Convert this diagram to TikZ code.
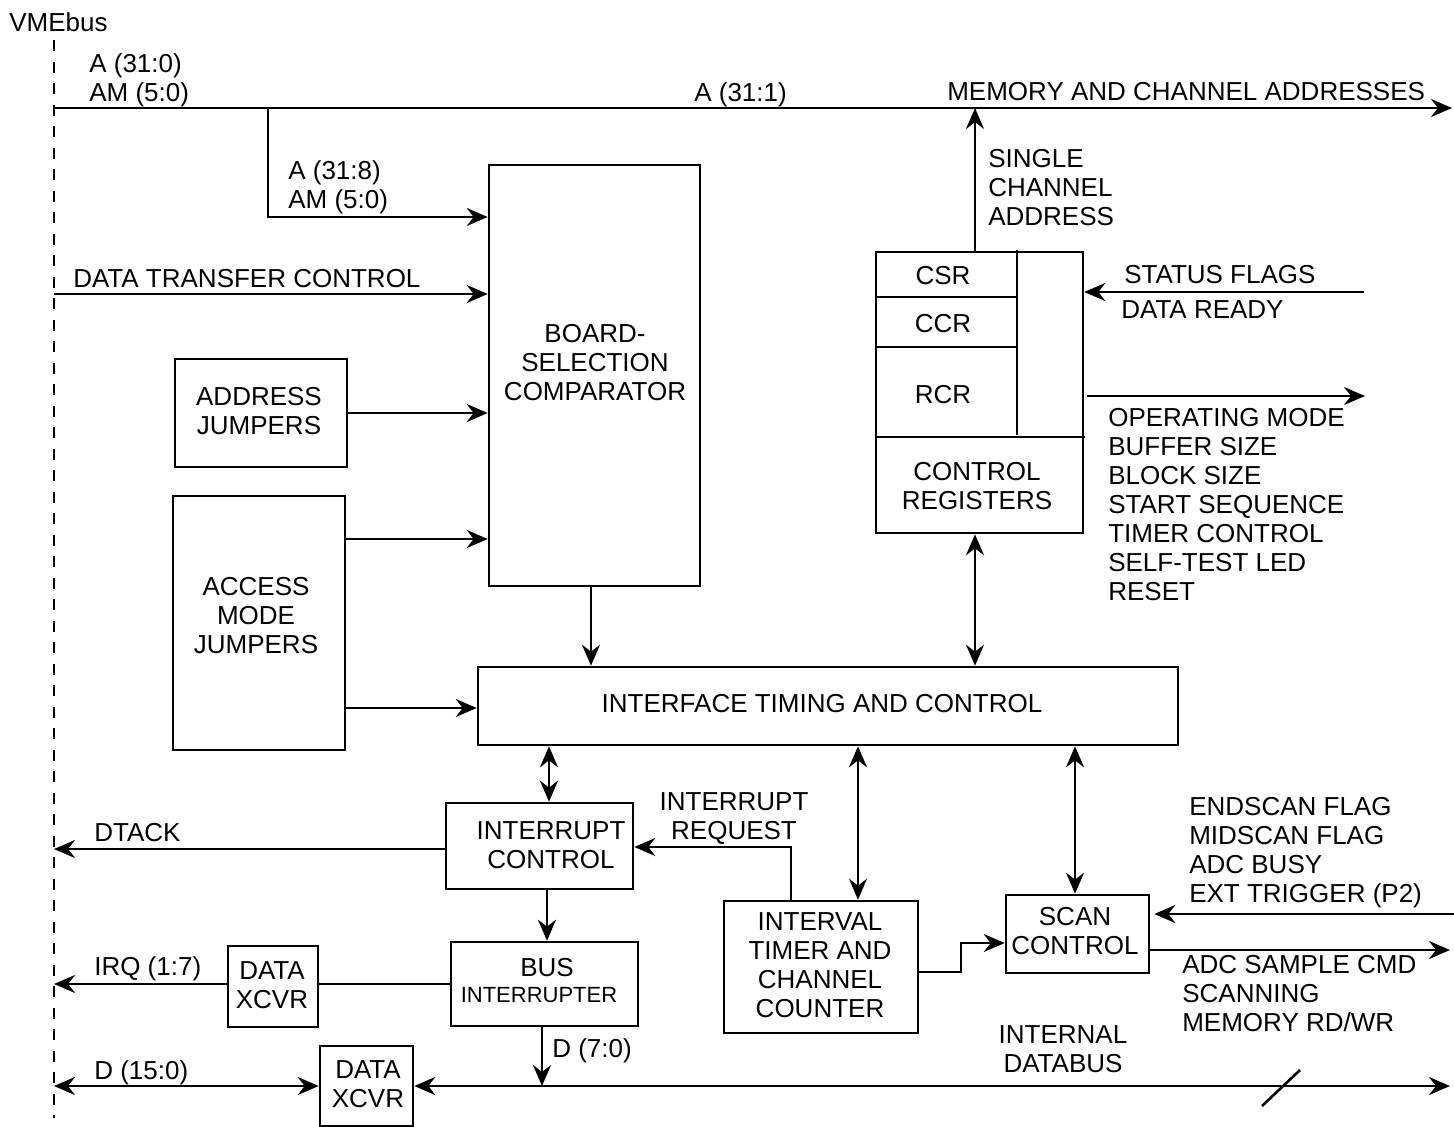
\documentclass[tikz,border=0pt]{standalone}
\usepackage{fontspec}
\setmainfont{Liberation Sans}
\usetikzlibrary{arrows.meta}
\newcommand\fnt{\fontsize{26}{29}\selectfont}
\newcommand\fnts{\fontsize{22}{26}\selectfont}
\begin{document}
\begin{tikzpicture}[x=1pt,y=-1pt,line width=2.6pt,
  every node/.style={inner sep=0pt,font=\fnt},
  box/.style={draw,rectangle,inner sep=0pt},
  tip/.tip={Stealth[length=21pt,width=18pt,inset=7pt]},
  arr/.style={-tip},
  darr/.style={tip-tip},
  bus/.style={dash pattern=on 11pt off 10.5pt}]
\fill[white] (0,0) rectangle (1454,1127);
\useasboundingbox (0,0) rectangle (1454,1127);

% boxes
\node[box,minimum width=211pt,minimum height=421pt] (board) at (594.5,375.5) {};
\node[box,minimum width=172pt,minimum height=108pt] (addrj) at (261,413) {};
\node[box,minimum width=172pt,minimum height=254pt] (accj) at (259,623) {};
\node[box,minimum width=700pt,minimum height=78pt] (itc) at (828,706) {};
\node[box,minimum width=207pt,minimum height=281pt] (csr) at (979.5,392.5) {};
\node[box,minimum width=187pt,minimum height=86pt] (intc) at (539.5,846) {};
\node[box,minimum width=187pt,minimum height=84pt] (busi) at (544.5,984) {};
\node[box,minimum width=90pt,minimum height=81pt] (dxa) at (273,986.5) {};
\node[box,minimum width=93pt,minimum height=80pt] (dxb) at (366.5,1086) {};
\node[box,minimum width=194pt,minimum height=132pt] (itim) at (821,967) {};
\node[box,minimum width=143pt,minimum height=78pt] (scan) at (1077.5,934) {};

% register subdivisions
\draw (876,297) -- (1017,297);
\draw (876,347) -- (1017,347);
\draw (876,437) -- (1085,437);
\draw (1017,250) -- (1017,435);

% box texts
\node[anchor=north,align=center] (tboard) at (595,323) {BOARD-\\SELECTION\\COMPARATOR};
\node[anchor=north,align=center] (taddr) at (259,386) {ADDRESS\\JUMPERS};
\node[anchor=north,align=center] (tacc) at (256,576) {ACCESS\\MODE\\JUMPERS};
\node[anchor=north] (titc) at (822,693) {INTERFACE TIMING AND CONTROL};
\node (tcsr) at (943,276) {CSR};
\node (tccr) at (943,324) {CCR};
\node (trcr) at (943,395) {RCR};
\node[anchor=north,align=center] (tcreg) at (977,461) {CONTROL\\REGISTERS};
\node[anchor=north,align=center] (tintc) at (551,820) {INTERRUPT\\CONTROL};
\node (tbus) at (547,967.5) {BUS};
\node[font=\fnts] (tbusi) at (539,995.5) {INTERRUPTER};
\node[anchor=north,align=center] (tdxa) at (272,960) {DATA\\XCVR};
\node[anchor=north,align=center] (tdxb) at (368,1059) {DATA\\XCVR};
\node[anchor=north,align=center] (titim) at (820,911) {INTERVAL\\TIMER AND\\CHANNEL\\COUNTER};
\node[anchor=north,align=center] (tscan) at (1075,906) {SCAN\\CONTROL};

% labels
\node[anchor=north west] (lvme) at (8,11) {VMEbus};
\node[anchor=north west,align=left] (la310) at (88,52) {A (31:0)\\AM (5:0)};
\node[anchor=north west,align=left] (la318) at (287,159) {A (31:8)\\AM (5:0)};
\node[anchor=north west] (ldtc) at (72,268) {DATA TRANSFER CONTROL};
\node[anchor=north west] (la311) at (693,81) {A (31:1)};
\node[anchor=north west] (lmca) at (946,81) {MEMORY AND CHANNEL ADDRESSES};
\node[anchor=north west,align=left] (lsca) at (987,148) {SINGLE\\CHANNEL\\ADDRESS};
\node[anchor=north west] (lsf) at (1123,264) {STATUS FLAGS};
\node[anchor=north west] (ldr) at (1120,299) {DATA READY};
\node[anchor=north west,align=left] (lom) at (1107,407) {OPERATING MODE\\BUFFER SIZE\\BLOCK SIZE\\START SEQUENCE\\TIMER CONTROL\\SELF-TEST LED\\RESET};
\node[anchor=north,align=center] (lireq) at (734,791) {INTERRUPT\\REQUEST};
\node[anchor=north west] (ldtack) at (93,822) {DTACK};
\node[anchor=north west] (lirq) at (93,955) {IRQ (1:7)};
\node[anchor=north west] (ld150) at (93,1059) {D (15:0)};
\node[anchor=north west] (ld70) at (551,1037) {D (7:0)};
\node[anchor=north west,align=left] (lend) at (1188,796) {ENDSCAN FLAG\\MIDSCAN FLAG\\ADC BUSY\\EXT TRIGGER (P2)};
\node[anchor=north west,align=left] (ladc) at (1181,954) {ADC SAMPLE CMD\\SCANNING\\MEMORY RD/WR};
\node[anchor=north,align=center] (lidb) at (1063,1024) {INTERNAL\\DATABUS};

% coordinates
\coordinate (vtop) at (54,40);
\coordinate (vbot) at (54,1118);
\coordinate (vA) at (54,108);
\coordinate (aEnd) at (1452,108);
\coordinate (br) at (268,108);
\coordinate (brk) at (268,217);
\coordinate (vDTC) at (54,294);
\coordinate (acc1) at (345,539);
\coordinate (acc2) at (345,708);
\coordinate (bdx) at (591,0);
\coordinate (scx) at (975,0);
\coordinate (sfS) at (1364,292);
\coordinate (omS) at (1087,396);
\coordinate (omE) at (1365,396);
\coordinate (icx) at (549,0);
\coordinate (ibx) at (547,0);
\coordinate (vDT) at (54,849);
\coordinate (irx) at (791,847);
\coordinate (vIRQ) at (54,984);
\coordinate (d7) at (542,1086);
\coordinate (vD) at (54,1086);
\coordinate (dbE) at (1450,1086);
\coordinate (tmx) at (858,0);
\coordinate (scnx) at (1075,0);
\coordinate (j1) at (961,972);
\coordinate (j2) at (961,943);
\coordinate (sIn) at (1454,914);
\coordinate (sOut) at (1450,950);
\coordinate (slA) at (1262,1106);
\coordinate (slB) at (1300,1070);

% VMEbus
\draw[bus] (vtop) -- (vbot);

% connectors
\draw[arr] (vA) -- (aEnd);
\draw[arr] (br) -- (brk) -- (brk -| board.west);
\draw[arr] (vDTC) -- (vDTC -| board.west);
\draw[arr] (addrj.east) -- (addrj.east -| board.west);
\draw[arr] (acc1) -- (acc1 -| board.west);
\draw[arr] (acc2) -- (acc2 -| itc.west);
\draw[arr] (board.south -| bdx) -- (itc.north -| bdx);
\draw[arr] (csr.north -| scx) -- (vA -| scx);
\draw[arr] (sfS) -- (sfS -| csr.east);
\draw[arr] (omS) -- (omE);
\draw[darr] (csr.south -| scx) -- (itc.north -| scx);
\draw[darr] (itc.south -| icx) -- (intc.north -| icx);
\draw[arr] (vDT -| intc.west) -- (vDT);
\draw[arr] (itim.north -| irx) -- (irx) -- (irx -| intc.east);
\draw[arr] (intc.south -| ibx) -- (busi.north -| ibx);
\draw (vIRQ -| busi.west) -- (vIRQ -| dxa.east);
\draw[arr] (vIRQ -| dxa.west) -- (vIRQ);
\draw[arr] (busi.south -| d7) -- (d7);
\draw[darr] (vD) -- (vD -| dxb.west);
\draw[darr] (vD -| dxb.east) -- (dbE);
\draw (slA) -- (slB);
\draw[darr] (itc.south -| tmx) -- (itim.north -| tmx);
\draw[darr] (itc.south -| scnx) -- (scan.north -| scnx);
\draw[arr] (j1 -| itim.east) -- (j1) -- (j2) -- (j2 -| scan.west);
\draw[arr,shorten >=4pt] (sIn) -- (sIn -| scan.east);
\draw[arr] (sOut -| scan.east) -- (sOut);
\end{tikzpicture}
\end{document}
